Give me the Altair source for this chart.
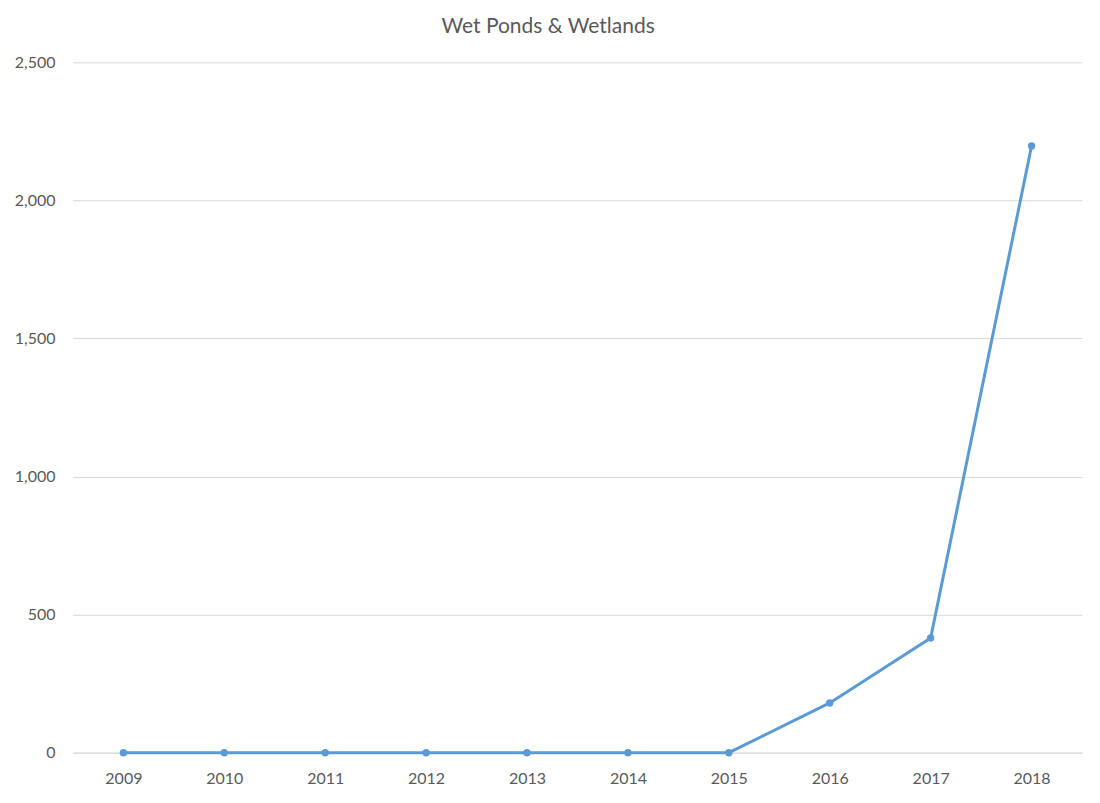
import altair as alt
import pandas as pd

years = ["2009", "2010", "2011", "2012", "2013", "2014", "2015", "2016", "2017", "2018"]
values = [0, 0, 0, 0, 0, 0, 0, 180, 415, 2197]

df = pd.DataFrame({"Year": years, "Value": values})

COLOR = "#5B9BD5"
TEXT = "#595959"
GRID = "#D9D9D9"
FONT = "Lato"

x = alt.X("Year:O", sort=years, scale=alt.Scale(type="point", padding=0.5),
          axis=alt.Axis(title=None, labelAngle=0, labelFontSize=16, labelColor=TEXT,
                        labelFont=FONT, ticks=False, domain=True, domainColor=GRID,
                        labelPadding=18, grid=False))
y = alt.Y("Value:Q", scale=alt.Scale(domain=[0, 2500], nice=False),
          axis=alt.Axis(title=None, values=[0, 500, 1000, 1500, 2000, 2500], format=",.0f",
                        labelFontSize=16, labelColor=TEXT, labelFont=FONT, ticks=False,
                        domain=False, grid=True, gridColor=GRID, labelPadding=18))

base = alt.Chart(df).encode(x=x, y=y)
line = base.mark_line(color=COLOR, strokeWidth=3)
pts = base.mark_circle(color=COLOR, size=55, opacity=1)

chart = (line + pts).properties(
    width=1010, height=691,
    title=alt.TitleParams("Wet Ponds & Wetlands", fontSize=21, color=TEXT, font=FONT,
                          fontWeight="normal", anchor="middle", frame="bounds", offset=17),
    autosize=alt.AutoSizeParams(type="none"),
    padding={"left": 65, "top": 54, "right": 10, "bottom": 40},
).configure(background="white").configure_view(stroke=None, strokeWidth=0)

chart.save("out.html", embed_options={"renderer": "svg", "actions": False})
